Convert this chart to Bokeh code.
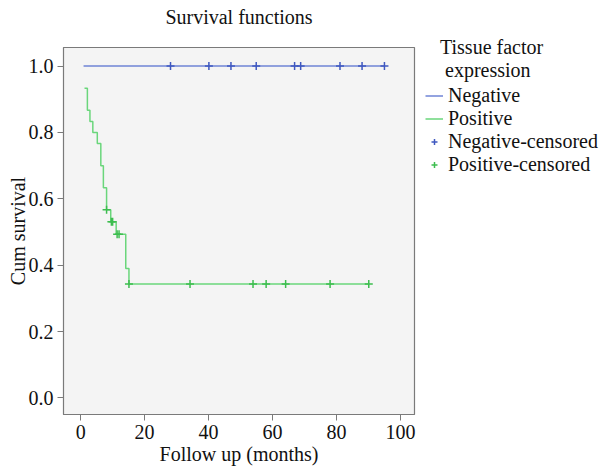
from bokeh.plotting import figure
from bokeh.models import Legend, LegendItem, FixedTicker, Range1d, PrintfTickFormatter
from bokeh.embed import file_html
from bokeh.resources import INLINE
import numpy as np

# ---- data ----
neg_line_times = [0.9, 95.0]
neg_line_surv = [1.0, 1.0]
neg_censor_times = [28.1, 40.1, 47.0, 54.9, 66.9, 68.8, 81.1, 88.0, 95.0]

pos_event_times = [1.2, 2.1, 2.9, 3.8, 5.2, 6.3, 7.1, 8.1, 9.4, 11.1, 14.1, 15.1]
pos_surv = [0.933, 0.867, 0.833, 0.800, 0.767, 0.700, 0.633, 0.567, 0.531, 0.493, 0.390, 0.343]
pos_last_time = 90.1
pos_censor_times = [8.1, 9.6, 10.0, 11.4, 12.0, 15.1, 34.2, 53.9, 58.0, 64.1, 78.0, 90.1]

x_ticks = [0, 20, 40, 60, 80, 100]
y_ticks = [0.0, 0.2, 0.4, 0.6, 0.8, 1.0]

# censored marks sit on the step curve
idx = np.searchsorted(pos_event_times, pos_censor_times, side="right") - 1
pos_censor_surv = [pos_surv[i] for i in idx]
neg_censor_surv = [1.0] * len(neg_censor_times)

FONT = "Liberation Serif"
BLUE_L = "#6f84d6"
BLUE_M = "#3f58c0"
GREEN_L = "#6ad67b"
GREEN_M = "#3dbd4f"
NB = "\u00a0"

p = figure(frame_width=351, frame_height=367,
           x_range=Range1d(-5.37, 104.4), y_range=Range1d(-0.05, 1.056),
           output_backend="svg", toolbar_location=None,
           min_border_left=63, min_border_right=196, min_border_top=47, min_border_bottom=50,
           title="Survival functions\n")

p.background_fill_color = "#f4f4f4"
p.border_fill_color = "white"
p.outline_line_color = "#7a7a7a"
p.outline_line_width = 1.2
p.xgrid.visible = False
p.ygrid.visible = False

p.title.text_font = FONT
p.title.text_font_size = "20px"
p.title.text_font_style = "normal"
p.title.align = "center"
p.title.text_color = "#111111"
p.title.text_line_height = 0.9
p.title.standoff = 0

for ax in (p.xaxis[0], p.yaxis[0]):
    ax.axis_line_color = "#7a7a7a"
    ax.major_tick_line_color = "#7a7a7a"
    ax.major_tick_in = 0
    ax.major_tick_out = 6
    ax.minor_tick_line_color = None
    ax.major_label_text_font = FONT
    ax.major_label_text_font_size = "20px"
    ax.major_label_text_color = "#111111"
    ax.axis_label_text_font = FONT
    ax.axis_label_text_font_size = "20px"
    ax.axis_label_text_font_style = "normal"
    ax.axis_label_text_color = "#111111"

p.xaxis.ticker = FixedTicker(ticks=x_ticks)
p.yaxis.ticker = FixedTicker(ticks=y_ticks)
p.yaxis.formatter = PrintfTickFormatter(format="%.1f")
p.xaxis.axis_label = "Follow up (months)"
p.yaxis.axis_label = "Cum survival"
p.xaxis.major_label_standoff = 4
p.xaxis.axis_label_standoff = 1
p.yaxis.major_label_standoff = 4
p.yaxis.axis_label_standoff = -3

neg_r = p.line(neg_line_times, neg_line_surv, line_color=BLUE_L, line_width=1.5)
pos_r = p.step(list(pos_event_times) + [pos_last_time], list(pos_surv) + [pos_surv[-1]],
               mode="after", line_color=GREEN_L, line_width=1.5)
negc_r = p.scatter(neg_censor_times, neg_censor_surv, marker="cross", size=8,
                   line_color=BLUE_M, line_width=1.5)
posc_r = p.scatter(pos_censor_times, pos_censor_surv, marker="cross", size=8,
                   line_color=GREEN_M, line_width=1.5)

legend = Legend(items=[
    LegendItem(label="Negative", renderers=[neg_r]),
    LegendItem(label="Positive", renderers=[pos_r]),
    LegendItem(label="Negative-censored", renderers=[negc_r]),
    LegendItem(label="Positive-censored", renderers=[posc_r]),
], location=(11, 238))
legend.title = NB * 3 + "Tissue factor\n" + NB * 4 + "expression"
legend.title_text_font = FONT
legend.title_text_font_size = "20px"
legend.title_text_font_style = "normal"
legend.title_text_color = "#111111"
legend.title_standoff = 2
legend.label_text_font = "Liberation Serif"
legend.label_text_font_style = "normal"
legend.label_text_font_size = "20px"
legend.label_text_color = "#111111"
legend.label_height = 16
legend.glyph_width = 18
legend.glyph_height = 15
legend.label_standoff = 5
legend.spacing = 0
legend.padding = 0
legend.margin = 0
legend.border_line_color = None
legend.background_fill_alpha = 0
p.add_layout(legend, "right")

open("out.html", "w").write(file_html(p, INLINE))
